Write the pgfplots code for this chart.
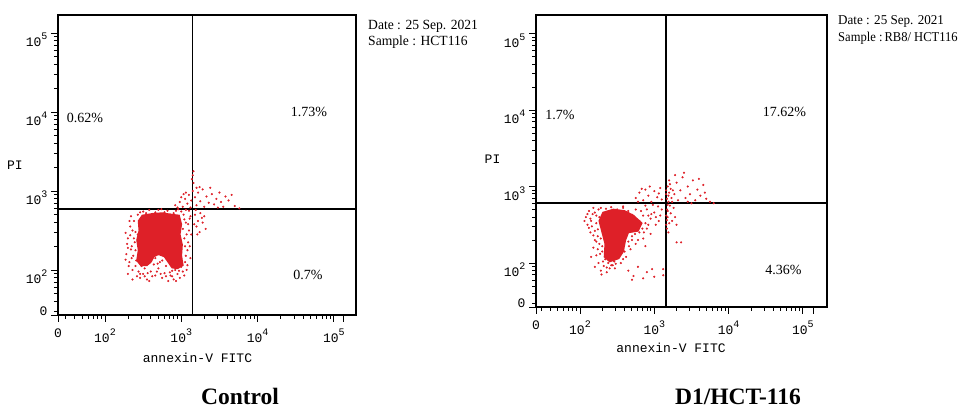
\documentclass[border=0pt]{standalone}
\usepackage{pgfplots}
\pgfplotsset{compat=1.18}
\usepackage{fontspec}
\setmainfont{Liberation Serif}
\newfontfamily\monofont{Liberation Mono}
\definecolor{dotred}{RGB}{222,32,40}
\newcommand{\ex}[1]{10\raisebox{0.55em}{\fontsize{10}{10}\selectfont #1}}
\pgfplotsset{
  flow/.style={
    scale only axis,
    axis line style={line width=1.6pt},
    every tick/.style={black, line width=0.9pt},
    tick align=outside,
    xtick pos=left, ytick pos=left,
    major tick length=7pt, minor tick length=4pt,
    tick label style={font=\monofont\fontsize{13}{13}\selectfont},
    xtick={#1,2,3,4,5},
    xticklabels={0,\ex{2},\ex{3},\ex{4},\ex{5}},
    yticklabels={\raisebox{22pt}{0},\ex{2},\ex{3},\ex{4},\ex{5}},
    yticklabel style={yshift=-7pt},
    xticklabel style={yshift=-3pt},
    minor xtick={1.477,1.602,1.699,1.778,1.845,1.903,1.954,2.301,2.477,2.602,2.699,2.778,2.845,2.903,2.954,3.301,3.477,3.602,3.699,3.778,3.845,3.903,3.954,4.301,4.477,4.602,4.699,4.778,4.845,4.903,4.954},
    minor ytick={1.477,1.602,1.699,1.778,1.845,1.903,1.954,2.301,2.477,2.602,2.699,2.778,2.845,2.903,2.954,3.301,3.477,3.602,3.699,3.778,3.845,3.903,3.954,4.301,4.477,4.602,4.699,4.778,4.845,4.903,4.954},
  },
  dots/.style={only marks, mark=*, mark size=0.85pt, color=dotred},
  core/.style={fill=dotred, draw=dotred, line width=1.6pt},
  gate/.style={black, line width=1.5pt},
}
\begin{document}
\begin{tikzpicture}
\path[use as bounding box] (0pt,0pt) rectangle (964pt,409pt);
% ---------------- Control ----------------
\begin{axis}[flow=1.384,
  at={(58pt,94pt)}, anchor=south west, width=298pt, height=300pt,
  xmin=1.384, xmax=5.29, ymin=1.43, ymax=5.228,
  ytick={1.43,2,3,4,5},
  extra x ticks={5.119}, extra x tick labels={},
  every axis x label/.style={at={(axis description cs:0.468,0)}, anchor=center, yshift=-43pt, font=\monofont\fontsize{13}{13}\selectfont},
  every axis y label/.style={at={(axis description cs:0,0.5)}, anchor=center, xshift=-43pt, font=\monofont\fontsize{13}{13}\selectfont},
  xlabel={annexin-V FITC}, ylabel={PI}]
\addplot[core] coordinates {(2.49,2.69) (2.62,2.71) (2.75,2.72) (2.88,2.70) (2.97,2.69) (3.00,2.58) (2.98,2.45) (3.01,2.32) (3.00,2.18) (3.02,2.06) (2.95,2.02) (2.88,2.03) (2.83,2.10) (2.78,2.17) (2.70,2.20) (2.64,2.17) (2.60,2.10) (2.55,2.06) (2.47,2.06) (2.42,2.12) (2.44,2.25) (2.42,2.38) (2.45,2.50) (2.44,2.62)} -- cycle;
\addplot[dots] coordinates {
(2.30,2.40) (2.33,2.55) (2.35,2.30) (2.28,2.20) (2.32,2.10) (2.36,2.00) (2.30,1.95) (2.38,2.62) (2.40,2.48) (2.37,2.18)
(2.42,1.92) (2.34,2.68) (2.31,2.05) (2.39,2.35) (2.36,1.88) (2.43,2.70) (2.29,2.33) (2.41,2.12) (2.33,2.44) (2.40,2.25)
(2.46,1.90) (2.50,1.95) (2.55,1.88) (2.52,2.02) (2.60,1.98) (2.66,1.93) (2.70,2.02) (2.75,1.90) (2.78,1.96) (2.83,1.86)
(2.86,1.93) (2.90,1.88) (2.95,1.95) (2.98,1.90) (3.02,1.98) (2.92,2.00) (2.58,1.86) (2.48,2.05) (2.64,2.07) (2.72,2.10)
(2.80,2.05) (2.88,1.99) (3.00,2.04) (2.66,2.15) (2.70,2.20) (2.75,2.12) (2.63,2.22) (2.78,2.18) (2.69,2.08) (2.44,1.98)
(3.05,2.10) (3.08,2.25) (3.04,2.40) (3.10,2.50) (3.06,2.60) (3.03,2.70) (3.09,2.35) (3.12,2.15) (3.07,2.00) (3.11,2.65)
(3.02,2.52) (3.10,2.75) (3.05,2.30) (3.13,2.45) (2.50,2.74) (2.58,2.76) (2.66,2.73) (2.74,2.77) (2.82,2.75) (2.90,2.72)
(2.96,2.77) (3.00,2.74) (2.62,2.71) (2.86,2.70) (2.34,2.26) (2.27,2.47) (2.52,1.92) (2.85,1.97) (3.06,2.18) (3.04,2.64)
(2.32,2.62) (2.36,2.50) (2.38,2.40) (2.35,2.15) (2.40,2.05) (2.46,1.95) (2.56,1.96) (2.62,1.92) (2.68,1.98) (2.73,1.95)
(2.80,1.92) (2.88,1.92) (2.93,1.86) (2.97,1.99) (3.04,1.93) (3.08,2.06) (3.11,2.30) (3.07,2.45) (3.09,2.58) (3.12,2.68)
(3.06,2.76) (2.46,2.73) (2.54,2.72) (2.70,2.76) (2.78,2.73) (2.93,2.75) (2.44,2.15) (2.43,2.45) (2.30,2.28) (2.27,2.13)
(2.92,2.82) (2.98,2.86) (3.02,2.80) (3.05,2.90) (3.08,2.84) (3.10,2.95) (3.13,2.88) (3.15,3.00) (3.16,3.10) (3.15,3.20)
(3.16,3.25) (3.14,3.15) (3.18,2.92) (3.20,2.82) (3.22,2.98) (3.25,2.87) (3.28,3.02) (3.30,2.80) (3.33,2.93) (3.36,2.85)
(3.40,2.96) (3.43,2.83) (3.46,2.90) (3.50,2.98) (3.52,2.86) (3.55,2.80) (3.58,2.93) (3.62,2.88) (3.66,2.95) (3.70,2.81)
(3.76,2.78) (3.00,2.92) (3.06,2.98) (3.24,3.05) (3.38,3.04) (3.48,2.79) (3.12,2.79) (3.20,3.04) (2.95,2.79) (3.03,2.96)
(3.18,2.70) (3.22,2.62) (3.20,2.55) (3.25,2.72) (3.28,2.60) (3.24,2.48) (3.30,2.68) (3.17,2.58) (3.32,2.52) (3.19,2.76)
(3.27,2.66) (3.21,2.45)};
\addplot[gate] coordinates {(3.149,1.43) (3.149,5.228)};
\addplot[gate] coordinates {(1.384,2.772) (5.29,2.772)};
\draw[line width=1.6pt] (rel axis cs:0,1) -- ++(-10pt,0);
\draw[line width=1.6pt] (rel axis cs:0,0) -- ++(-10pt,0);
\end{axis}
\node[anchor=center, font=\fontsize{14}{14}\selectfont] at (85pt,291.5pt) {0.62\%};
\node[anchor=center, font=\fontsize{14}{14}\selectfont] at (309pt,297.5pt) {1.73\%};
\node[anchor=center, font=\fontsize{14}{14}\selectfont] at (308pt,134pt) {0.7\%};
\node[anchor=base west, inner sep=0pt, font=\fontsize{14}{14}\selectfont] at (368pt,379.5pt) {\scalebox{0.97}[1]{Date : 25 Sep. 2021}};
\node[anchor=base west, inner sep=0pt, font=\fontsize{14}{14}\selectfont] at (368pt,363pt) {\scalebox{0.97}[1]{Sample : HCT116}};
\node[anchor=base, inner sep=0pt, font=\fontsize{23.5}{23.5}\selectfont\bfseries] at (240pt,4pt) {Control};
% ---------------- D1/HCT-116 ----------------
\begin{axis}[flow=1.408,
  at={(536pt,102pt)}, anchor=south west, width=291pt, height=292pt,
  xmin=1.408, xmax=5.324, ymin=1.425, ymax=5.242,
  ytick={1.425,2,3,4,5},
  extra x ticks={5.14}, extra x tick labels={},
  every axis x label/.style={at={(axis description cs:0.464,0)}, anchor=center, yshift=-41pt, font=\monofont\fontsize{13}{13}\selectfont},
  every axis y label/.style={at={(axis description cs:0,0.507)}, anchor=center, xshift=-43.5pt, font=\monofont\fontsize{13}{13}\selectfont},
  xlabel={annexin-V FITC}, ylabel={PI}]
\addplot[core] coordinates {(2.31,2.66) (2.45,2.70) (2.60,2.68) (2.72,2.62) (2.83,2.52) (2.78,2.42) (2.65,2.40) (2.61,2.30) (2.58,2.15) (2.52,2.06) (2.40,2.02) (2.33,2.08) (2.34,2.25) (2.30,2.40) (2.26,2.55)} -- cycle;
\addplot[dots] coordinates {
(2.08,2.60) (2.12,2.68) (2.10,2.50) (2.15,2.55) (2.18,2.72) (2.20,2.42) (2.14,2.40) (2.22,2.62) (2.25,2.70) (2.06,2.55)
(2.17,2.64) (2.24,2.35) (2.28,2.72) (2.12,2.46) (2.20,2.30) (2.18,2.20) (2.22,2.10) (2.25,2.00) (2.20,1.95) (2.28,1.90)
(2.32,1.96) (2.36,1.88) (2.40,1.93) (2.30,2.15) (2.26,2.25) (2.34,2.05) (2.44,1.97) (2.15,2.08) (2.38,2.00) (2.22,2.28)
(2.48,1.99) (2.29,1.85) (2.60,2.15) (2.65,2.28) (2.70,2.35) (2.58,2.05) (2.75,2.25) (2.80,2.40) (2.85,2.32) (2.90,2.45)
(2.68,2.18) (2.62,2.40) (2.95,2.38) (2.88,2.22) (2.72,2.42) (2.55,2.12) (2.78,2.30) (2.80,2.55) (2.85,2.62) (2.90,2.70)
(2.95,2.58) (3.00,2.66) (3.05,2.74) (3.08,2.62) (3.02,2.50) (2.92,2.50) (2.98,2.76) (3.10,2.70) (2.88,2.75) (2.82,2.68)
(3.06,2.55) (2.35,2.71) (2.42,2.73) (2.50,2.70) (2.58,2.72) (2.65,2.68) (2.70,2.63) (2.52,2.18) (2.46,2.02) (2.64,2.50)
(2.10,2.64) (2.14,2.58) (2.16,2.48) (2.18,2.36) (2.22,2.52) (2.24,2.44) (2.26,2.60) (2.20,2.66) (2.28,2.32) (2.30,2.22)
(2.27,2.12) (2.24,2.18) (2.31,2.02) (2.36,1.94) (2.42,1.97) (2.47,1.93) (2.55,2.00) (2.62,2.08) (2.66,2.22) (2.70,2.30)
(2.74,2.38) (2.84,2.45) (2.88,2.52) (2.96,2.64) (2.86,2.40) (2.62,2.35) (2.58,2.74) (2.75,2.70) (2.92,2.62) (3.02,2.60)
(2.75,2.85) (2.80,2.92) (2.85,2.82) (2.88,2.96) (2.92,2.88) (2.96,2.80) (3.00,2.94) (3.04,2.86) (3.08,2.98) (2.78,2.80)
(2.83,2.97) (3.10,2.83) (2.94,3.00) (3.06,2.91) (3.16,2.50) (3.18,2.60) (3.17,2.70) (3.19,2.80) (3.16,2.90) (3.18,3.00)
(3.20,3.08) (3.22,2.65) (3.24,2.55) (3.21,2.75) (3.23,2.85) (3.25,2.95) (3.17,2.45) (3.20,2.52) (3.26,2.72) (3.28,2.60)
(3.19,2.88) (3.22,2.97) (3.16,2.62) (3.18,2.76) (3.21,3.03) (3.17,2.84) (3.24,2.80) (3.30,2.50) (3.19,2.40) (3.27,2.90)
(3.16,2.95) (3.18,2.68) (3.20,2.92) (3.17,2.56) (3.30,3.05) (3.35,2.95) (3.38,3.12) (3.42,2.85) (3.45,3.00) (3.48,2.90)
(3.52,3.08) (3.55,2.82) (3.58,2.96) (3.62,2.88) (3.66,3.02) (3.70,2.84) (3.75,2.80) (3.80,2.78) (3.32,2.82) (3.40,3.18)
(3.50,2.78) (3.60,3.10) (3.28,3.15) (3.45,2.80) (3.68,2.92) (2.65,1.90) (2.72,1.83) (2.78,1.95) (2.85,1.80) (2.90,1.88)
(2.97,1.92) (2.70,1.78) (3.12,1.92) (3.12,1.84) (3.00,1.82) (3.30,2.27) (3.36,2.27)};
\addplot[gate] coordinates {(3.157,1.425) (3.157,5.242)};
\addplot[gate] coordinates {(1.408,2.784) (5.324,2.784)};
\draw[line width=1.6pt] (rel axis cs:0,1) -- ++(-10pt,0);
\draw[line width=1.6pt] (rel axis cs:0,0) -- ++(-10pt,0);
\end{axis}
\node[anchor=center, font=\fontsize{14}{14}\selectfont] at (560pt,294.5pt) {1.7\%};
\node[anchor=center, font=\fontsize{14}{14}\selectfont] at (784.5pt,297.5pt) {17.62\%};
\node[anchor=center, font=\fontsize{14}{14}\selectfont] at (783.5pt,139.5pt) {4.36\%};
\node[anchor=base west, inner sep=0pt, font=\fontsize{13.5}{13.5}\selectfont] at (838pt,384pt) {\scalebox{0.97}[1]{Date : 25 Sep. 2021}};
\node[anchor=base west, inner sep=0pt, font=\fontsize{13.5}{13.5}\selectfont] at (838pt,367pt) {\scalebox{0.93}[1]{Sample :\,RB8/ HCT116}};
\node[anchor=base, inner sep=0pt, font=\fontsize{23.5}{23.5}\selectfont\bfseries] at (738pt,4pt) {D1/HCT-116};
\end{tikzpicture}
\end{document}
